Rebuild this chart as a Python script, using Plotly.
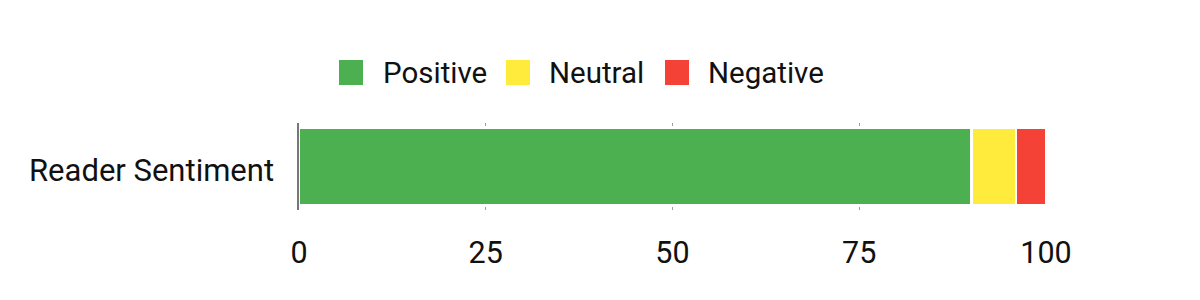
import plotly.graph_objects as go

categories = ["Reader Sentiment"]
series_names = ["Positive", "Neutral", "Negative"]
positive = [90]
neutral = [6]
negative = [4]
x_ticks = [0, 25, 50, 75, 100]

colors = ["#4CAF50", "#FFEB3B", "#F44336"]
values = [positive, neutral, negative]

W, H = 1200, 300
L, R, T, B = 299, 154, 123, 90
pw, ph = W - L - R, H - T - B
TXT = "#111111"

def px_x(p):
    return (p - L) / pw

def px_y(p):
    return (H - B - p) / ph

fig = go.Figure()
for name, vals, c in zip(series_names, values, colors):
    fig.add_trace(go.Bar(
        y=categories, x=vals, name=name, orientation="h",
        marker=dict(color=c, line=dict(color="white", width=2.4)),
        width=0.9, showlegend=False,
    ))

# category label (as annotation, to fine-tune vertical placement)
for cat in categories:
    fig.add_annotation(text=cat, xref="paper", yref="y", x=px_x(276), y=cat,
                       xanchor="right", yanchor="middle", yshift=-4,
                       showarrow=False, font=dict(size=31, color=TXT))

# manual legend (larger swatches)
sw_left = [339, 506, 665]
txt_left = [381, 547, 706]
for name, c, sx, tx in zip(series_names, colors, sw_left, txt_left):
    fig.add_shape(type="rect", xref="paper", yref="paper",
                  x0=px_x(sx), x1=px_x(sx + 24), y0=px_y(85), y1=px_y(60),
                  fillcolor=c, line=dict(width=0))
    fig.add_annotation(text=name, xref="paper", yref="paper",
                       x=px_x(tx), y=px_y(72.5), xanchor="left", yanchor="middle",
                       showarrow=False, font=dict(size=29.5, color=TXT))

fig.update_layout(
    barmode="stack",
    width=W, height=H,
    margin=dict(l=L, r=R, t=T, b=B, pad=0),
    paper_bgcolor="white", plot_bgcolor="white",
    font=dict(family="Roboto", size=30, color=TXT),
    showlegend=False,
)
fig.update_xaxes(range=[0, 100], tickvals=x_ticks, ticktext=[str(v) for v in x_ticks],
                 showgrid=True, gridcolor="#9e9e9e", gridwidth=1,
                 zeroline=False, showline=False, ticks="", ticklabelstandoff=21,
                 tickfont=dict(size=30.5, color=TXT))
fig.update_yaxes(showgrid=False, zeroline=False, showline=True,
                 linecolor="#777777", linewidth=2, ticks="", showticklabels=False)

fig.write_html("out.html")
